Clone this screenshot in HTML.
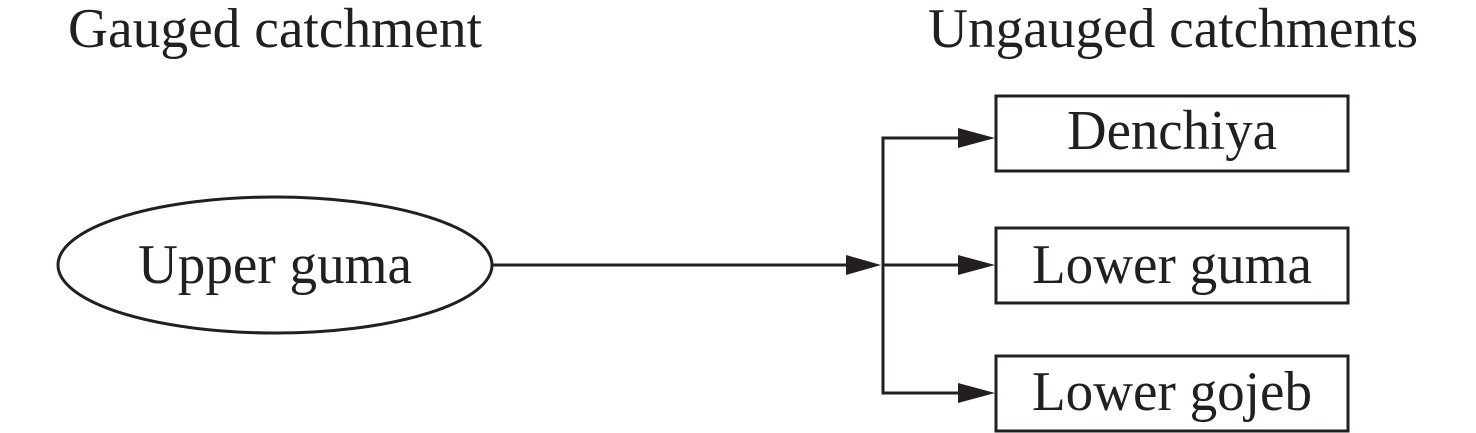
<!DOCTYPE html>
<html><head><style>html,body{margin:0;padding:0;background:#fff;}</style></head>
<body>
<svg width="1476" height="433" xmlns="http://www.w3.org/2000/svg" style="display:block">
<g font-family="'Liberation Serif', serif" font-size="56" fill="#231f20">
<text x="68" y="47" textLength="414" lengthAdjust="spacingAndGlyphs">Gauged catchment</text>
<text x="928" y="47" textLength="490" lengthAdjust="spacingAndGlyphs">Ungauged catchments</text>
<text x="138" y="283" textLength="274" lengthAdjust="spacingAndGlyphs">Upper guma</text>
<text x="1067" y="149" textLength="210" lengthAdjust="spacingAndGlyphs">Denchiya</text>
<text x="1032" y="283" textLength="280" lengthAdjust="spacingAndGlyphs">Lower guma</text>
<text x="1032" y="410" textLength="280" lengthAdjust="spacingAndGlyphs">Lower gojeb</text>
</g>
<g stroke="#231f20" stroke-width="3" fill="none">
<ellipse cx="275" cy="265" rx="217" ry="68"/>
<rect x="996" y="96" width="352" height="75"/>
<rect x="996" y="228" width="352" height="75"/>
<rect x="996" y="356" width="352" height="75"/>
<line x1="492" y1="265" x2="860" y2="265"/>
<polyline points="960,138 883,138 883,393 960,393"/>
<line x1="883" y1="265" x2="960" y2="265"/>
</g>
<g fill="#231f20">
<polygon points="846,255 881,265 846,275"/>
<polygon points="958,128 995,138 958,148"/>
<polygon points="958,255 995,265 958,275"/>
<polygon points="958,383 995,393 958,403"/>
</g>
</svg>
</body></html>
